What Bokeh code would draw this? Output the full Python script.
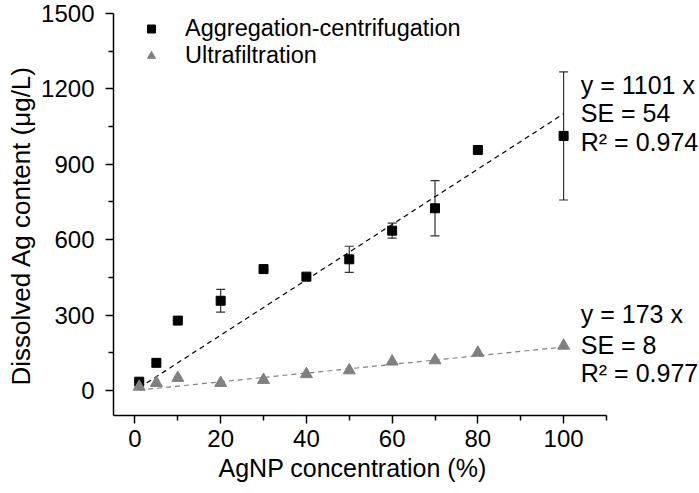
from bokeh.plotting import figure
from bokeh.models import (ColumnDataSource, Whisker, TeeHead, Range1d, FixedTicker, Legend,
                          LegendItem, Label, Title)
from bokeh.embed import file_html
from bokeh.resources import INLINE

# Data
conc = [1, 5, 10, 20, 30, 40, 50, 60, 70, 80, 100]
agg_cent = [35, 110, 278, 357, 483, 453, 522, 636, 725, 957, 1013]
agg_err = [0, 0, 0, 45, 0, 0, 52, 30, 110, 0, 255]
ultra = [15, 30, 50, 30, 42, 65, 80, 115, 120, 150, 178]
agg_slope = 1101
ultra_slope = 173
fit_x = [1, 100]
x_ticks = [0, 20, 40, 60, 80, 100]
x_minor = [10, 30, 50, 70, 90, 110]
y_ticks = [0, 300, 600, 900, 1200, 1500]
y_minor = [150, 450, 750, 1050, 1350]
agg_text = ["y = 1101 x", "SE = 54", "R\u00b2 = 0.974"]
ultra_text = ["y = 173 x", "SE = 8", "R\u00b2 = 0.977"]
agg_text_y = [1215, 1104, 989]
ultra_text_y = [305, 182, 71]
text_x = 104
x_label = "AgNP concentration (%)"
y_label = "Dissolved Ag content (\u03bcg/L)"

FONT = "Liberation Sans"
GREY = "#808080"

p = figure(width=699, height=493, output_backend="svg", toolbar_location=None,
           x_range=Range1d(-5, 131.7), y_range=Range1d(-99.5, 1500),
           min_border_left=113, min_border_right=0, min_border_top=13, min_border_bottom=78)
p.outline_line_color = None
p.xgrid.visible = False
p.ygrid.visible = False

for ax in (p.xaxis[0], p.yaxis[0]):
    ax.axis_line_width = 1.5
    ax.major_tick_line_width = 1.5
    ax.minor_tick_line_width = 1.5
    ax.major_tick_out = 8
    ax.major_tick_in = 0
    ax.minor_tick_out = 5
    ax.minor_tick_in = 0
    ax.major_label_text_font = FONT
    ax.major_label_text_font_size = "24px"
    ax.major_label_text_color = "black"

p.xaxis.bounds = (-5, 110)
p.yaxis.bounds = (-99.5, 1500)
p.xaxis.ticker = FixedTicker(ticks=x_ticks, minor_ticks=x_minor)
p.yaxis.ticker = FixedTicker(ticks=y_ticks, minor_ticks=y_minor)
p.xaxis.major_label_standoff = 6
p.yaxis.major_label_standoff = 11

# axis titles, positioned to sit under the drawn axis extent
xt = Title(text=x_label, align="left", offset=105, standoff=5,
           text_font=FONT, text_font_size="25px", text_font_style="normal", text_color="black")
p.add_layout(xt, "below")
yt = Title(text=y_label, align="left", offset=30, standoff=6,
           text_font=FONT, text_font_size="26px", text_font_style="normal", text_color="black")
p.add_layout(yt, "left")

src = ColumnDataSource(dict(x=conc, agg=agg_cent,
                            lo=[a - e for a, e in zip(agg_cent, agg_err)],
                            hi=[a + e for a, e in zip(agg_cent, agg_err)],
                            ultra=ultra))
fit = ColumnDataSource(dict(x=fit_x,
                            agg=[agg_slope * x / 100 for x in fit_x],
                            ultra=[ultra_slope * x / 100 for x in fit_x]))

p.line("x", "agg", source=fit, line_color="black", line_dash="5 4", line_width=1.2)
p.line("x", "ultra", source=fit, line_color=GREY, line_dash="5 4", line_width=1.2)

w = Whisker(source=src, base="x", lower="lo", upper="hi", line_color="#333333", line_width=1.2,
            upper_head=TeeHead(size=9, line_color="#333333", line_width=1.2),
            lower_head=TeeHead(size=9, line_color="#333333", line_width=1.2))
p.add_layout(w)

r_sq = p.scatter("x", "agg", source=src, marker="square", size=9, fill_color="black", line_color="black")
r_tri = p.scatter("x", "ultra", source=src, marker="triangle", size=12, fill_color=GREY, line_color=GREY)

legend = Legend(items=[LegendItem(label="Aggregation-centrifugation", renderers=[r_sq]),
                       LegendItem(label="Ultrafiltration", renderers=[r_tri])],
                location=(28, 346))
legend.border_line_color = None
legend.background_fill_alpha = 0
legend.padding = 0
legend.margin = 0
legend.spacing = 0
legend.glyph_width = 20
legend.glyph_height = 25
legend.label_height = 25
legend.label_standoff = 24
legend.label_text_font = FONT
legend.label_text_font_size = "23.5px"
legend.label_text_color = "black"
p.add_layout(legend, "center")

for t, yy in zip(agg_text, agg_text_y):
    p.add_layout(Label(x=text_x, y=yy, text=t, text_font=FONT, text_font_size="25px",
                       text_baseline="middle", text_color="black"))
for t, yy in zip(ultra_text, ultra_text_y):
    p.add_layout(Label(x=text_x, y=yy, text=t, text_font=FONT, text_font_size="25px",
                       text_baseline="middle", text_color="black"))

open("out.html", "w").write(file_html(p, INLINE))
